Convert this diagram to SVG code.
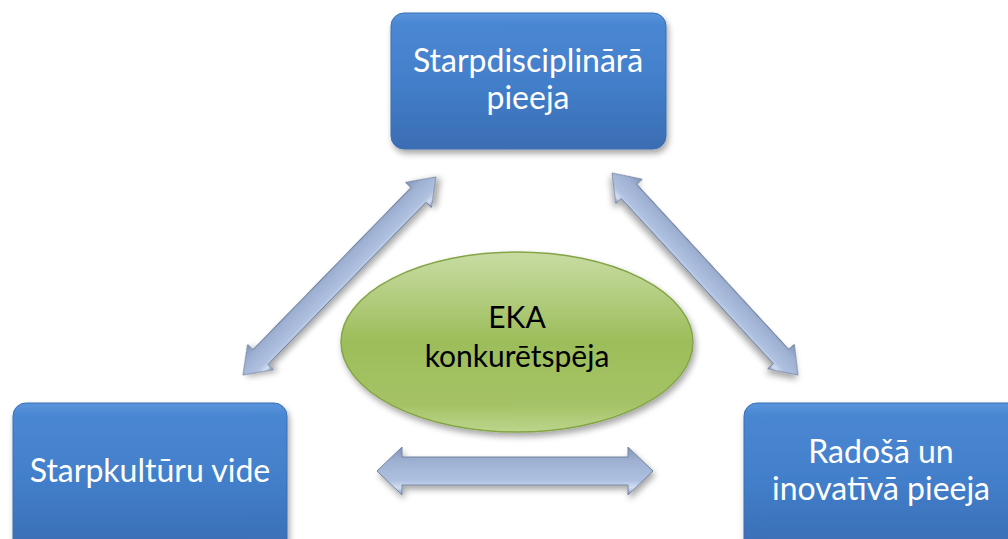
<svg xmlns="http://www.w3.org/2000/svg" width="1008" height="539" viewBox="0 0 1008 539">
<defs>
<linearGradient id="boxGrad" x1="0" y1="0" x2="0" y2="1">
<stop offset="0" stop-color="#5a95dc"/>
<stop offset="0.08" stop-color="#4a87d3"/>
<stop offset="0.5" stop-color="#437fcb"/>
<stop offset="1" stop-color="#3a6db3"/>
</linearGradient>
<linearGradient id="ellGrad" x1="0" y1="0" x2="0" y2="1">
<stop offset="0" stop-color="#c8dca3"/>
<stop offset="0.5" stop-color="#9dbd5a"/>
<stop offset="0.85" stop-color="#a5c366"/>
<stop offset="1" stop-color="#bcd58c"/>
</linearGradient>
<linearGradient id="arrGrad" x1="0" y1="0" x2="0" y2="1">
<stop offset="0" stop-color="#8395ba"/>
<stop offset="0.3" stop-color="#9fb1d3"/>
<stop offset="0.7" stop-color="#afc1e0"/>
<stop offset="0.85" stop-color="#d3def2"/>
<stop offset="1" stop-color="#8193b6"/>
</linearGradient>
<filter id="shadow" x="-10%" y="-10%" width="130%" height="140%">
<feDropShadow dx="2" dy="4" stdDeviation="3" flood-color="#000" flood-opacity="0.35"/>
</filter>
</defs>
<style>
.box{fill:url(#boxGrad);stroke:#3b6fb3;stroke-width:1;filter:url(#shadow)}
.btxt{font-family:Lato,"Noto Sans",sans-serif;font-size:32px;fill:#ffffff;text-anchor:middle}
.etxt{font-family:Lato,"Noto Sans",sans-serif;font-size:30px;fill:#000000;text-anchor:middle}
.arr{fill:url(#arrGrad);stroke:#72839f;stroke-width:1;filter:url(#shadow)}
</style>
<g id="connectors">
<polygon class="arr" transform="translate(243,375) rotate(-45.73)" points="0,0 25,-18 25,-10.5 251.5,-10.5 251.5,-18 276.5,0 251.5,18 251.5,10.5 25,10.5 25,18"/>
<polygon class="arr" transform="translate(612,173) rotate(47.36)" points="0,0 25,-18 25,-10.5 249.6,-10.5 249.6,-18 274.6,0 249.6,18 249.6,10.5 25,10.5 25,18"/>
<polygon class="arr" transform="translate(377,471)" points="0,0 25,-24 25,-14 251,-14 251,-24 276,0 251,24 251,14 25,14 25,24"/>
</g>
<g id="node-top">
<rect class="box" x="391" y="13" width="275" height="136" rx="13"/>
<text class="btxt" x="528" y="72">Starpdisciplinārā</text>
<text class="btxt" x="528" y="109">pieeja</text>
</g>
<g id="node-left">
<rect class="box" x="13" y="403" width="274" height="150" rx="13"/>
<text class="btxt" x="150" y="482">Starpkultūru vide</text>
</g>
<g id="node-right">
<rect class="box" x="744" y="403" width="280" height="150" rx="13"/>
<text class="btxt" x="881" y="463">Radošā un</text>
<text class="btxt" x="881" y="500">inovatīvā pieeja</text>
</g>
<g id="node-center">
<ellipse cx="517" cy="342" rx="176" ry="90" fill="url(#ellGrad)" stroke="#84a546" stroke-width="1.5" filter="url(#shadow)"/>
<text class="etxt" x="517" y="328">EKA</text>
<text class="etxt" x="517" y="367">konkurētspēja</text>
</g>
</svg>
